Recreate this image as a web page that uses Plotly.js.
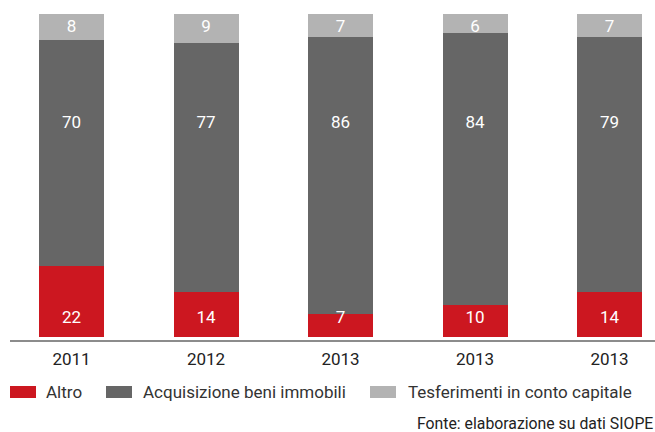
<!DOCTYPE html>
<html>
<head>
<meta charset="utf-8">
<script src="https://cdn.plot.ly/plotly-3.0.1.min.js"></script>
<style>html,body{margin:0;padding:0;background:#fff;}#chart{width:655px;height:432px;}</style>
</head>
<body>
<div id="chart"></div>
<script>
const years = ["2011", "2012", "2013", "2013", "2013"];
const altro = [22, 14, 7, 10, 14];
const acquisizione = [70, 77, 86, 84, 79];
const trasferimenti = [8, 9, 7, 6, 7];
const seriesNames = ["Altro", "Acquisizione beni immobili", "Tesferimenti in conto capitale"];
const colors = ["#cc1720", "#666666", "#b3b3b3"];
const source = "Fonte: elaborazione su dati SIOPE";

const idx = years.map((_, i) => i);
const FONT = "Roboto, 'DejaVu Sans', sans-serif";
const barW = 0.483;
const W = 655, H = 432, MT = 14, MB = 91;
const PH = H - MT - MB;
const pyToPaper = py => (H - MB - py) / PH;

function barTrace(vals, name, color) {
  return {type: "bar", x: idx, y: vals, name: name, width: barW,
    marker: {color: color, line: {width: 0}}, hoverinfo: "skip", showlegend: false};
}
function labelTrace(vals, yLevels) {
  return {type: "scatter", mode: "text", x: idx, y: yLevels, text: vals.map(String),
    textfont: {family: FONT, size: 17, color: "#ffffff"}, showlegend: false, hoverinfo: "skip"};
}
const data = [
  barTrace(altro, seriesNames[0], colors[0]),
  barTrace(acquisizione, seriesNames[1], colors[1]),
  barTrace(trasferimenti, seriesNames[2], colors[2]),
  labelTrace(altro, idx.map(() => 5.5)),
  labelTrace(acquisizione, idx.map(() => 66)),
  labelTrace(trasferimenti, idx.map(() => 95.6))
];

// custom legend (wide swatches like the reference)
const legendIconX = [10, 106, 370];
const legendTextX = [44, 141, 406];
const legendY = 392;
const shapes = [{type: "line", xref: "paper", yref: "paper", x0: 10/W, x1: 1, y0: 0, y1: 0,
  line: {color: "#666666", width: 1.5}}];
const annotations = [];
seriesNames.forEach((n, i) => {
  shapes.push({type: "rect", xref: "paper", yref: "paper",
    x0: legendIconX[i]/W, x1: (legendIconX[i]+26)/W,
    y0: pyToPaper(legendY+6), y1: pyToPaper(legendY-6),
    fillcolor: colors[i], line: {width: 0}});
  annotations.push({text: n, xref: "paper", yref: "paper", x: legendTextX[i]/W, y: pyToPaper(legendY),
    xanchor: "left", yanchor: "middle", showarrow: false,
    font: {family: FONT, size: 17, color: "#333333"}});
});
annotations.push({text: source, xref: "paper", yref: "paper", x: 1, y: pyToPaper(424),
  xanchor: "right", yanchor: "middle", showarrow: false,
  font: {family: FONT, size: 15.8, color: "#222222"}});

const layout = {
  width: W, height: H,
  margin: {l: 0, r: 0, t: MT, b: MB},
  paper_bgcolor: "#ffffff", plot_bgcolor: "#ffffff",
  barmode: "stack",
  font: {family: FONT, color: "#222222"},
  xaxis: {range: [-0.5316, 4.338], tickvals: idx, ticktext: years, showgrid: false, zeroline: false,
    showline: false, ticks: "", ticklabelstandoff: 6,
    tickfont: {family: FONT, size: 17, color: "#222222"}, fixedrange: true},
  yaxis: {range: [-1.3, 100], visible: false, fixedrange: true},
  showlegend: false,
  shapes: shapes,
  annotations: annotations
};
Plotly.newPlot("chart", data, layout, {displayModeBar: false, staticPlot: true});
</script>
</body>
</html>
